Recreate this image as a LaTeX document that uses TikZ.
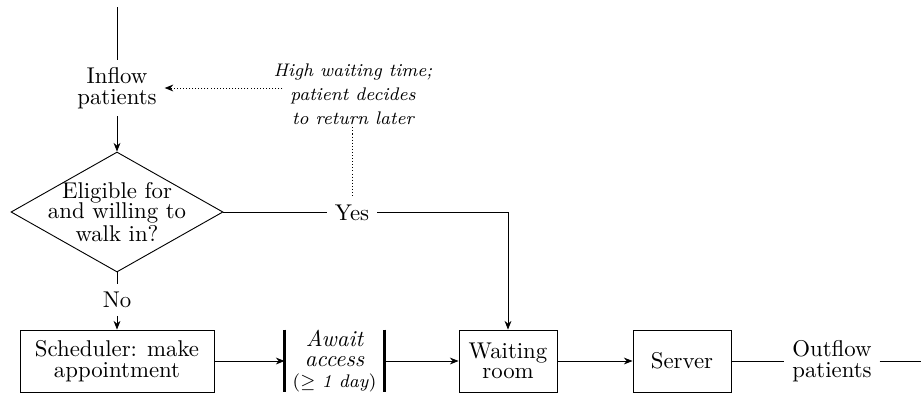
\documentclass[tikz,border=0pt]{standalone}
\usetikzlibrary{arrows.meta,shapes.geometric}
\newdimen\pxu \pxu=0.4386pt
\begin{document}
\begin{tikzpicture}[x=0.4386pt,y=-0.4386pt,
  every node/.style={font=\fontsize{10}{9}\selectfont,align=center},
  arr/.style={-{Stealth[length=3.8pt,width=3pt]}},
  box/.style={draw,minimum height=62*\pxu,inner sep=2pt},
  plain/.style={inner sep=3.3pt},
  note/.style={font=\fontsize{8}{10.6}\selectfont\itshape,inner sep=1pt},
  fine/.style={dash pattern=on 0.45pt off 0.9pt},
  bar/.style={line width=1.5pt}]
\useasboundingbox (0,0) rectangle (921,395);
\coordinate (top) at (117,7);
\node[plain] (inflow) at (117,88) {Inflow\\patients};
\node[diamond,draw,minimum width=212*\pxu,minimum height=120*\pxu,inner sep=0pt] (dec) at (117,212) {};
\node at (dec) {Eligible for\\and willing to\\walk in?};
\node[plain] (no) at (117,300) {No};
\node[box,minimum width=194*\pxu] (sched) at (117,361) {Scheduler: make\\appointment};
\node[minimum width=99*\pxu,minimum height=60*\pxu,inner sep=0pt] (await) at (334.5,361)
  {\itshape Await\\\itshape access\\{\footnotesize ($\geq$ \textit{1 day})}};
\node[box,minimum width=98*\pxu] (wait) at (508,361) {Waiting\\room};
\node[box,minimum width=98*\pxu] (server) at (682,361) {Server};
\node[plain] (out) at (832,361) {Outflow\\patients};
\coordinate (end) at (921,361);
\node[plain] (yes) at (352,213) {Yes};
\coordinate (corner) at (508,212);
\node[note] (note) at (353,94) {High waiting time;\\patient decides\\to return later};

\draw (top) -- (inflow);
\draw[arr] (inflow) -- (dec.north);
\draw (dec.south) -- (no);
\draw[arr] (no) -- (sched);
\draw[arr] (sched) -- (await.west);
\draw[bar] (await.north west) -- (await.south west);
\draw[bar] (await.north east) -- (await.south east);
\draw[arr] (await.east) -- (wait);
\draw[arr] (wait) -- (server);
\draw (server) -- (out);
\draw (out) -- (end);
\draw (dec.east) -- (yes.west |- dec.east);
\draw[arr] (yes.east |- corner) -- (corner) -- (wait.north);
\draw[fine] (note.south -| yes) -- (yes.north);
\draw[fine,arr] ([xshift=5pt]note.west |- inflow) -- (inflow.east);
\end{tikzpicture}
\end{document}
